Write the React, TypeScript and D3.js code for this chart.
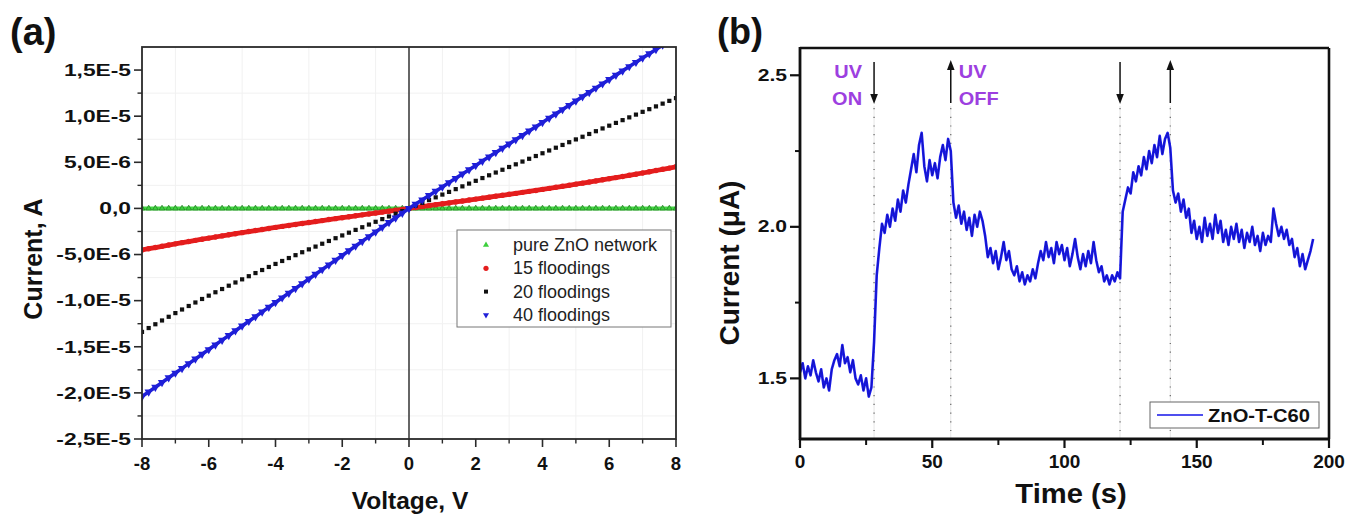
import React from 'react';
import * as d3 from 'd3';

// ---------- Panel (a) data : I–V curves ----------
const voltage = [
  -8, -7.8, -7.6, -7.4, -7.2, -7, -6.8, -6.6, -6.4, -6.2, -6, -5.8, -5.6, -5.4, -5.2, -5, -4.8, -4.6, -4.4, -4.2,
  -4, -3.8, -3.6, -3.4, -3.2, -3, -2.8, -2.6, -2.4, -2.2, -2, -1.8, -1.6, -1.4, -1.2, -1, -0.8, -0.6, -0.4, -0.2,
  0, 0.2, 0.4, 0.6, 0.8, 1, 1.2, 1.4, 1.6, 1.8, 2, 2.2, 2.4, 2.6, 2.8, 3, 3.2, 3.4, 3.6, 3.8,
  4, 4.2, 4.4, 4.6, 4.8, 5, 5.2, 5.4, 5.6, 5.8, 6, 6.2, 6.4, 6.6, 6.8, 7, 7.2, 7.4, 7.6, 7.8, 8,
];
// currents in µA (1E-6 A)
const pureZnO = [
  0, 0, 0, 0, 0, 0, 0, 0, 0, 0, 0, 0, 0, 0, 0, 0, 0, 0, 0, 0,
  0, 0, 0, 0, 0, 0, 0, 0, 0, 0, 0, 0, 0, 0, 0, 0, 0, 0, 0, 0,
  0, 0, 0, 0, 0, 0, 0, 0, 0, 0, 0, 0, 0, 0, 0, 0, 0, 0, 0, 0,
  0, 0, 0, 0, 0, 0, 0, 0, 0, 0, 0, 0, 0, 0, 0, 0, 0, 0, 0, 0, 0,
];
const flood15 = [
  -4.51, -4.37, -4.24, -4.11, -3.97, -3.84, -3.71, -3.59, -3.46, -3.34, -3.22, -3.10, -2.98, -2.86, -2.74, -2.63, -2.51, -2.40, -2.29, -2.17,
  -2.06, -1.95, -1.85, -1.74, -1.63, -1.53, -1.42, -1.32, -1.21, -1.11, -1.01, -0.91, -0.80, -0.70, -0.60, -0.50, -0.40, -0.30, -0.20, -0.10,
  0, 0.10, 0.20, 0.30, 0.40, 0.50, 0.60, 0.70, 0.80, 0.91, 1.01, 1.11, 1.21, 1.32, 1.42, 1.53, 1.63, 1.74, 1.85, 1.95,
  2.06, 2.17, 2.29, 2.40, 2.51, 2.63, 2.74, 2.86, 2.98, 3.10, 3.22, 3.34, 3.46, 3.59, 3.71, 3.84, 3.97, 4.11, 4.24, 4.37, 4.51,
];
const flood20 = [
  -13.39, -12.97, -12.56, -12.15, -11.75, -11.35, -10.96, -10.58, -10.20, -9.82, -9.46, -9.09, -8.74, -8.38, -8.03, -7.69, -7.35, -7.01, -6.68, -6.35,
  -6.02, -5.70, -5.38, -5.07, -4.75, -4.44, -4.14, -3.83, -3.53, -3.23, -2.93, -2.63, -2.33, -2.04, -1.75, -1.45, -1.16, -0.87, -0.58, -0.29,
  0, 0.30, 0.60, 0.90, 1.20, 1.50, 1.79, 2.09, 2.39, 2.69, 2.99, 3.29, 3.59, 3.89, 4.19, 4.49, 4.78, 5.08, 5.38, 5.68,
  5.98, 6.28, 6.58, 6.88, 7.18, 7.48, 7.77, 8.07, 8.37, 8.67, 8.97, 9.27, 9.57, 9.87, 10.17, 10.47, 10.76, 11.06, 11.36, 11.66, 11.96,
];
const flood40 = [
  -20.40, -19.89, -19.38, -18.87, -18.36, -17.85, -17.34, -16.83, -16.32, -15.81, -15.30, -14.79, -14.28, -13.77, -13.26, -12.75, -12.24, -11.73, -11.22, -10.71,
  -10.20, -9.69, -9.18, -8.67, -8.16, -7.65, -7.14, -6.63, -6.12, -5.61, -5.10, -4.59, -4.08, -3.57, -3.06, -2.55, -2.04, -1.53, -1.02, -0.51,
  0, 0.47, 0.93, 1.40, 1.86, 2.33, 2.80, 3.26, 3.73, 4.19, 4.66, 5.13, 5.59, 6.06, 6.52, 6.99, 7.46, 7.92, 8.39, 8.85,
  9.32, 9.79, 10.25, 10.72, 11.18, 11.65, 12.12, 12.58, 13.05, 13.51, 13.98, 14.45, 14.91, 15.38, 15.84, 16.31, 16.78, 17.24, 17.71, 18.17, 18.64,
];
const seriesNamesA = ['pure ZnO network', '15 floodings', '20 floodings', '40 floodings'];
const currentTicksA = [-25, -20, -15, -10, -5, 0, 5, 10, 15];
const currentTickLabelsA = ['-2,5E-5', '-2,0E-5', '-1,5E-5', '-1,0E-5', '-5,0E-6', '0,0', '5,0E-6', '1,0E-5', '1,5E-5'];
const currentMinorA = [-22.5, -17.5, -12.5, -7.5, -2.5, 2.5, 7.5, 12.5];
const voltageTicks = [-8, -6, -4, -2, 0, 2, 4, 6, 8];
const voltageMinor = [-7, -5, -3, -1, 1, 3, 5, 7];

// ---------- Panel (b) data : photo-response ----------
const timeS = [
  0, 1, 2, 3, 4, 5, 6, 7, 8, 9, 10, 11, 12, 13, 14, 15, 16, 17, 18, 19,
  20, 21, 22, 23, 24, 25, 26, 27, 28, 29, 30, 31, 32, 33, 34, 35, 36, 37, 38, 39,
  40, 41, 42, 43, 44, 45, 46, 47, 48, 49, 50, 51, 52, 53, 54, 55, 56, 57, 58, 59,
  60, 61, 62, 63, 64, 65, 66, 67, 68, 69, 70, 71, 72, 73, 74, 75, 76, 77, 78, 79,
  80, 81, 82, 83, 84, 85, 86, 87, 88, 89, 90, 91, 92, 93, 94, 95, 96, 97, 98, 99,
  100, 101, 102, 103, 104, 105, 106, 107, 108, 109, 110, 111, 112, 113, 114, 115, 116, 117, 118, 119,
  120, 121, 122, 123, 124, 125, 126, 127, 128, 129, 130, 131, 132, 133, 134, 135, 136, 137, 138, 139,
  140, 141, 142, 143, 144, 145, 146, 147, 148, 149, 150, 151, 152, 153, 154, 155, 156, 157, 158, 159,
  160, 161, 162, 163, 164, 165, 166, 167, 168, 169, 170, 171, 172, 173, 174, 175, 176, 177, 178, 179,
  180, 181, 182, 183, 184, 185, 186, 187, 188, 189, 190, 191, 192, 193, 194,
];
const currentUA = [
  1.52, 1.55, 1.50, 1.54, 1.51, 1.56, 1.52, 1.49, 1.53, 1.47, 1.50, 1.46, 1.53, 1.56, 1.58, 1.54, 1.61, 1.55, 1.57, 1.52,
  1.56, 1.50, 1.48, 1.51, 1.46, 1.50, 1.44, 1.47,
  1.62, 1.84, 1.93, 2.01, 1.98, 2.04, 2.00, 2.06, 2.02, 2.09, 2.05, 2.12, 2.08, 2.14, 2.19, 2.24, 2.18, 2.27, 2.31, 2.20,
  2.15, 2.22, 2.17, 2.21, 2.16, 2.23, 2.27, 2.22, 2.29, 2.25,
  2.08, 2.03, 2.07, 2.01, 2.05, 1.99, 2.03, 1.97, 2.04, 2.00, 2.05, 2.02, 1.97,
  1.90, 1.93, 1.88, 1.92, 1.86, 1.90, 1.95, 1.89, 1.92, 1.86, 1.84, 1.87, 1.82, 1.85, 1.81, 1.84, 1.82, 1.86, 1.83, 1.88,
  1.92, 1.89, 1.95, 1.90, 1.93, 1.88, 1.95, 1.91, 1.94, 1.89, 1.93, 1.87, 1.91, 1.96, 1.90, 1.86, 1.91, 1.87, 1.92, 1.88,
  1.95, 1.89, 1.85, 1.87, 1.82, 1.84, 1.81, 1.84, 1.82, 1.85, 1.83,
  2.05, 2.09, 2.13, 2.11, 2.18, 2.15, 2.20, 2.17, 2.23, 2.19, 2.25, 2.21, 2.27, 2.23, 2.30, 2.24, 2.29, 2.31, 2.26,
  2.12, 2.08, 2.11, 2.05, 2.09, 2.03, 2.06, 1.98, 2.02, 1.96, 2.00, 1.95, 2.03, 1.97, 2.01, 1.96, 2.04, 1.98, 2.02, 1.95,
  1.99, 1.94, 2.00, 1.96, 2.01, 1.95, 1.99, 1.93, 1.98, 1.95, 2.00, 1.94, 1.97, 1.92, 1.98, 1.94, 1.97, 1.95, 2.06, 2.01,
  1.97, 2.00, 1.96, 1.99, 1.94, 1.96, 1.90, 1.93, 1.87, 1.91, 1.86, 1.89, 1.92, 1.96,
];
const timeTicks = [0, 50, 100, 150, 200];
const timeMinor = [25, 75, 125, 175];
const currentTicksB = [1.5, 2.0, 2.5];
const currentTickLabelsB = ['1.5', '2.0', '2.5'];
const currentMinorB = [1.75, 2.25];
const uvOnTimes = [28, 121];
const uvOffTimes = [57, 140];
const legendB = 'ZnO-T-C60';

const FONT = 'Liberation Sans, Arial, Helvetica, sans-serif';

type TxtProps = {
  x: number; y: number; sx?: number; rot?: number; anchor?: string; size: number;
  weight?: string; fill?: string; baseline?: string; children: React.ReactNode;
};
const Txt = ({ x, y, sx = 1, rot = 0, anchor = 'start', size, weight = 'bold', fill = '#111', baseline, children }: TxtProps) => (
  <g transform={`translate(${x},${y}) rotate(${rot}) scale(${sx},1)`}>
    <text x={0} y={0} textAnchor={anchor as any} fontSize={size} fontWeight={weight} fill={fill}
      fontFamily={FONT} dominantBaseline={baseline as any}>{children}</text>
  </g>
);

export default function App() {
  // ----- panel (a) scales -----
  const xA = d3.scaleLinear().domain([-8, 8]).range([142, 676]);
  const yA = d3.scaleLinear().domain([-25, 17.5]).range([439, 47]);
  const lineA = (vals: number[]) =>
    d3.line<number>().x((_, i) => xA(voltage[i])).y((v) => yA(v))(vals) || '';

  const triUp = d3.symbol(d3.symbolTriangle, 14)() || '';
  const triDown = d3.symbol(d3.symbolTriangle, 30)() || '';
  const triUpLeg = d3.symbol(d3.symbolTriangle, 16)() || '';
  const triDownLeg = d3.symbol(d3.symbolTriangle, 16)() || '';

  // ----- panel (b) scales -----
  const xB = d3.scaleLinear().domain([0, 200]).range([800, 1329]);
  const yB = d3.scaleLinear().domain([1.3, 2.59]).range([439, 48]);
  const lineB = d3.line<number>().x((_, i) => xB(timeS[i])).y((v) => yB(v))(currentUA) || '';

  const purple = '#9d3fe0';

  const legendRowsA = [0, 1, 2, 3];

  return (
    <svg width={1349} height={516} style={{ position: 'absolute', left: 0, top: 0, background: '#fff' }}
      fontFamily={FONT}>
      <rect x={0} y={0} width={1349} height={516} fill="#fff" />
      <defs>
        <clipPath id="clipA"><rect x={142} y={47} width={534} height={392} /></clipPath>
        <clipPath id="clipB"><rect x={800} y={48} width={529} height={391} /></clipPath>
      </defs>

      {/* ================= PANEL (a) ================= */}
      <Txt x={10} y={45} size={38} sx={1.0}>(a)</Txt>

      {/* faint grid */}
      {voltageMinor.map((v) => (
        <line key={'gv' + v} x1={xA(v)} x2={xA(v)} y1={47} y2={439} stroke="#f1f1f1" strokeWidth={1} />
      ))}
      {currentMinorA.map((v) => (
        <line key={'gh' + v} x1={142} x2={676} y1={yA(v)} y2={yA(v)} stroke="#f1f1f1" strokeWidth={1} />
      ))}

      {/* zero line */}
      <line x1={xA(0)} x2={xA(0)} y1={47} y2={439} stroke="#333" strokeWidth={1.5} />

      <g clipPath="url(#clipA)">
        {/* pure ZnO */}
        <path d={lineA(pureZnO)} fill="none" stroke="#44d844" strokeWidth={4} />
        {pureZnO.map((v, i) => (
          <path key={'g' + i} d={triUp} transform={`translate(${xA(voltage[i])},${yA(v)})`}
            fill="#3ccf3c" stroke="#1f6a1f" strokeWidth={0.6} />
        ))}
        {/* 15 floodings */}
        <path d={lineA(flood15)} fill="none" stroke="#e41d1d" strokeWidth={4.8} strokeLinecap="round" />
        {flood15.map((v, i) => (
          <circle key={'r' + i} cx={xA(voltage[i])} cy={yA(v)} r={2.7} fill="#e41d1d" />
        ))}
        {/* 20 floodings */}
        {flood20.map((v, i) => (
          <rect key={'k' + i} x={xA(voltage[i]) - 2.1} y={yA(v) - 2.1} width={4.2} height={4.2} fill="#111" />
        ))}
        {/* 40 floodings */}
        <path d={lineA(flood40)} fill="none" stroke="#1f1fd8" strokeWidth={3.6} />
        {flood40.map((v, i) => (
          <path key={'b' + i} d={triDown} transform={`translate(${xA(voltage[i])},${yA(v)}) rotate(180)`}
            fill="#1f1fd8" />
        ))}
      </g>

      {/* frame */}
      <rect x={142} y={47} width={534} height={392} fill="none" stroke="#2a2a2a" strokeWidth={1.8} />

      {/* x ticks */}
      {voltageTicks.map((v) => (
        <g key={'xt' + v}>
          <line x1={xA(v)} x2={xA(v)} y1={439} y2={447} stroke="#2a2a2a" strokeWidth={1.6} />
          <Txt x={xA(v)} y={470} size={18.5} anchor="middle">{String(v)}</Txt>
        </g>
      ))}
      {voltageMinor.map((v) => (
        <line key={'xm' + v} x1={xA(v)} x2={xA(v)} y1={439} y2={443.5} stroke="#2a2a2a" strokeWidth={1.4} />
      ))}
      {/* y ticks */}
      {currentTicksA.map((v, i) => (
        <g key={'yt' + v}>
          <line x1={134} x2={142} y1={yA(v)} y2={yA(v)} stroke="#2a2a2a" strokeWidth={1.6} />
          <Txt x={131} y={yA(v)} size={16.5} sx={1.38} anchor="end" baseline="central">{currentTickLabelsA[i]}</Txt>
        </g>
      ))}
      {currentMinorA.map((v) => (
        <line key={'ym' + v} x1={137.5} x2={142} y1={yA(v)} y2={yA(v)} stroke="#2a2a2a" strokeWidth={1.4} />
      ))}

      <Txt x={410} y={509} size={24.5} anchor="middle">Voltage, V</Txt>
      <Txt x={33} y={259} size={25} anchor="middle" rot={-90} baseline="central">Current, A</Txt>

      {/* legend (a) */}
      <rect x={457} y={230} width={214} height={97} fill="#fff" stroke="#777" strokeWidth={1} />
      {legendRowsA.map((r) => {
        const cy = 245 + r * 23.3;
        const mx = 486;
        let marker: React.ReactNode = null;
        if (r === 0) marker = <path d={triUpLeg} transform={`translate(${mx},${cy})`} fill="#3ccf3c" />;
        if (r === 1) marker = <circle cx={mx} cy={cy} r={2.6} fill="#e41d1d" />;
        if (r === 2) marker = <rect x={mx - 2} y={cy - 2} width={4} height={4} fill="#111" />;
        if (r === 3) marker = <path d={triDownLeg} transform={`translate(${mx},${cy}) rotate(180)`} fill="#1f1fd8" />;
        return (
          <g key={'la' + r}>
            {marker}
            <Txt x={513} y={cy} size={18} weight="normal" baseline="central" fill="#222">{seriesNamesA[r]}</Txt>
          </g>
        );
      })}

      {/* ================= PANEL (b) ================= */}
      <Txt x={717} y={44} size={36} sx={1.0}>(b)</Txt>

      {/* dotted UV markers */}
      {[...uvOnTimes, ...uvOffTimes].map((t) => (
        <g key={'dl' + t}>
          <line x1={xB(t)} x2={xB(t)} y1={106} y2={439} stroke="#e6e6e6" strokeWidth={1} />
          <line x1={xB(t)} x2={xB(t)} y1={108} y2={439} stroke="#666" strokeWidth={1.2} strokeDasharray="1.2,7.5" />
        </g>
      ))}

      <g clipPath="url(#clipB)">
        <path d={lineB} fill="none" stroke="#1a1af0" strokeWidth={2.6} strokeLinejoin="round" />
        <path d={lineB} fill="none" stroke="#10108a" strokeWidth={0.8} strokeLinejoin="round" opacity={0.6} />
      </g>

      {/* arrows */}
      {uvOnTimes.map((t) => {
        const x = xB(t);
        return (
          <g key={'on' + t}>
            <line x1={x} x2={x} y1={62} y2={96} stroke="#111" strokeWidth={1.5} />
            <polygon points={`${x - 3.8},${94} ${x + 3.8},${94} ${x},${104}`} fill="#111" />
          </g>
        );
      })}
      {uvOffTimes.map((t) => {
        const x = xB(t);
        return (
          <g key={'off' + t}>
            <line x1={x} x2={x} y1={68} y2={103} stroke="#111" strokeWidth={1.5} />
            <polygon points={`${x - 3.8},${70} ${x + 3.8},${70} ${x},${60}`} fill="#111" />
          </g>
        );
      })}
      <Txt x={xB(uvOnTimes[0]) - 12} y={78} size={18.5} sx={1.08} anchor="end" fill={purple}>UV</Txt>
      <Txt x={xB(uvOnTimes[0]) - 12} y={105} size={18.5} sx={1.08} anchor="end" fill={purple}>ON</Txt>
      <Txt x={xB(uvOffTimes[0]) + 8} y={78} size={18.5} sx={1.08} fill={purple}>UV</Txt>
      <Txt x={xB(uvOffTimes[0]) + 8} y={105} size={18.5} sx={1.08} fill={purple}>OFF</Txt>

      {/* frame */}
      <line x1={800} x2={1329} y1={48} y2={48} stroke="#111" strokeWidth={2.6} />
      <line x1={1329} x2={1329} y1={48} y2={439} stroke="#111" strokeWidth={2.6} />
      <line x1={800} x2={800} y1={47} y2={440} stroke="#111" strokeWidth={2.8} />
      <line x1={799} x2={1330} y1={439} y2={439} stroke="#111" strokeWidth={2.8} />

      {timeTicks.map((t) => (
        <g key={'bt' + t}>
          <line x1={xB(t)} x2={xB(t)} y1={439} y2={448} stroke="#111" strokeWidth={2.2} />
          <Txt x={xB(t)} y={468} size={19} anchor="middle">{String(t)}</Txt>
        </g>
      ))}
      {timeMinor.map((t) => (
        <line key={'bm' + t} x1={xB(t)} x2={xB(t)} y1={439} y2={445} stroke="#111" strokeWidth={2} />
      ))}
      {currentTicksB.map((v, i) => (
        <g key={'byt' + v}>
          <line x1={790} x2={800} y1={yB(v)} y2={yB(v)} stroke="#111" strokeWidth={2.2} />
          <Txt x={787} y={yB(v)} size={16} sx={1.32} anchor="end" baseline="central">{currentTickLabelsB[i]}</Txt>
        </g>
      ))}
      {currentMinorB.map((v) => (
        <line key={'bym' + v} x1={795} x2={800} y1={yB(v)} y2={yB(v)} stroke="#111" strokeWidth={2} />
      ))}

      <Txt x={1071} y={503} size={27} sx={1.08} anchor="middle">Time (s)</Txt>
      <Txt x={729} y={263} size={28} anchor="middle" rot={-90} baseline="central">Current (μA)</Txt>

      {/* legend (b) */}
      <rect x={1150} y={402} width={169} height={26} fill="#fff" stroke="#666" strokeWidth={1} />
      <line x1={1157} x2={1203} y1={415} y2={415} stroke="#1414e8" strokeWidth={1.3} />
      <Txt x={1208} y={422} size={18} sx={1.12}>{legendB}</Txt>
    </svg>
  );
}
